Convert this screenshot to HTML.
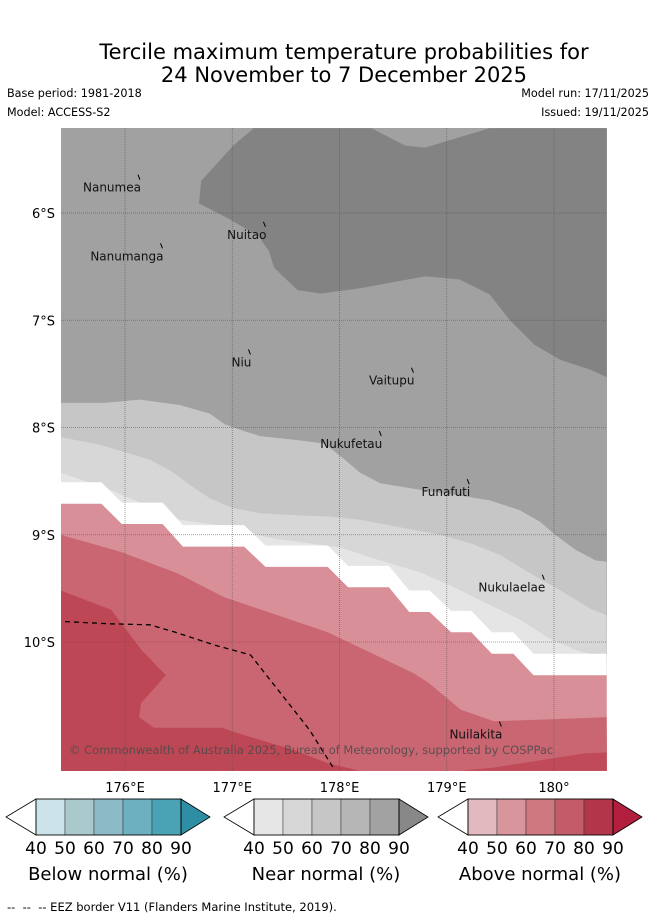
<!DOCTYPE html>
<html><head><meta charset="utf-8">
<style>
html,body{margin:0;padding:0;background:#fff;}
body{width:655px;height:919px;position:relative;overflow:hidden;font-family:"DejaVu Sans","Liberation Sans",sans-serif;color:#000;}
.t{position:absolute;white-space:nowrap;}
</style></head>
<body>
<div class="t" style="left:0;width:688px;top:41px;text-align:center;font-size:21px;line-height:23px;">Tercile maximum temperature probabilities for<br>24 November to 7 December 2025</div>
<div class="t" style="left:7px;top:87px;font-size:11.2px;">Base period: 1981-2018</div>
<div class="t" style="left:7px;top:106px;font-size:11.2px;">Model: ACCESS-S2</div>
<div class="t" style="right:6px;top:87px;font-size:11.2px;">Model run: 17/11/2025</div>
<div class="t" style="right:6px;top:106px;font-size:11.2px;">Issued: 19/11/2025</div>
<svg id="map" width="655" height="919" style="position:absolute;left:0;top:0" xmlns="http://www.w3.org/2000/svg"></svg>
<div class="t" style="left:7px;top:900px;font-size:11.5px;">--&nbsp; --&nbsp; -- EEZ border V11 (Flanders Marine Institute, 2019).</div>
<script>
// ---- data (lon °E, lat °S) ----
const lonTicks = [176,177,178,179,180];
const lonTickLabels = ["176°E","177°E","178°E","179°E","180°"];
const latTicks = [6,7,8,9,10];
const latTickLabels = ["6°S","7°S","8°S","9°S","10°S"];
const darkLon = [177.20,177.01,176.71,176.69,176.96,177.24,177.34,177.39,177.61,177.83,178.20,178.80,179.12,179.40,179.59,179.82,180.06,180.34,180.49,180.49,179.40,179.03,178.80,178.61,178.30];
const darkLat = [5.21,5.37,5.70,5.91,6.05,6.21,6.35,6.51,6.72,6.75,6.70,6.59,6.62,6.76,7.00,7.23,7.37,7.46,7.53,5.21,5.21,5.32,5.39,5.37,5.21];
const b70Lon = [175.40,175.81,176.14,176.51,176.79,176.93,177.07,177.26,177.63,177.86,178.05,178.19,178.38,178.75,179.22,179.40,179.68,179.87,180.01,180.20,180.39,180.49];
const b70Lat = [7.77,7.77,7.74,7.79,7.87,7.97,8.02,8.08,8.12,8.15,8.30,8.42,8.52,8.58,8.65,8.68,8.77,8.88,9.00,9.14,9.24,9.25];
const b60Lon = [175.40,175.77,176.00,176.23,176.42,176.61,176.79,177.00,177.26,177.63,177.91,178.19,178.56,178.94,179.22,179.50,179.78,180.06,180.34,180.49];
const b60Lat = [8.09,8.16,8.23,8.30,8.40,8.54,8.66,8.75,8.80,8.82,8.83,8.86,8.93,9.00,9.08,9.19,9.36,9.52,9.69,9.75];
const b50Lon = [175.40,175.86,176.51,177.00,177.35,178.01,178.38,178.75,179.03,179.31,179.68,179.96,180.24,180.49];
const b50Lat = [8.42,8.58,8.86,8.93,9.03,9.12,9.24,9.35,9.47,9.61,9.79,9.97,10.09,10.14];
const stairLon = [175.40,175.78,175.97,176.35,176.54,177.11,177.31,177.89,178.08,178.46,178.65,178.84,179.04,179.23,179.42,179.62,179.81,180.49];
const stairLat = [8.51,8.51,8.70,8.70,8.91,8.91,9.10,9.10,9.29,9.29,9.52,9.52,9.71,9.71,9.91,9.91,10.11,10.11];
const whiteBandDepth = 0.20;
const r60Lon = [175.40,175.96,176.49,176.92,177.89,178.69,178.83,179.13,179.44,180.28,180.49];
const r60Lat = [9.00,9.16,9.36,9.58,9.91,10.29,10.38,10.63,10.74,10.71,10.70];
const r70Lon = [175.40,175.87,176.15,176.38,176.15,176.13,176.27,176.90,177.02,177.58,177.89,178.19];
const r70Lat = [9.52,9.70,10.07,10.31,10.57,10.70,10.80,10.80,10.84,11.01,11.13,11.20];
const r80Lon = [179.13,179.44,180.28,180.49,180.49];
const r80Lat = [11.20,11.17,11.04,11.03,11.20];
const eezLon = [175.44,175.86,176.23,176.47,176.84,177.17,177.35,177.54,177.72,177.94];
const eezLat = [9.81,9.83,9.84,9.91,10.03,10.12,10.35,10.59,10.82,11.17];
const islandNames = ["Nanumea","Nuitao","Nanumanga","Niu","Vaitupu","Nukufetau","Funafuti","Nukulaelae","Nuilakita"];
const islandLon = [176.13,177.30,176.34,177.16,178.68,178.38,179.20,179.90,179.50];
const islandLat = [5.67,6.11,6.31,7.30,7.47,8.06,8.51,9.40,10.77];
// ---- axes ----
const L=61,R=607,T=128,B=771;
const LON0=175.403,LON1=180.494,LAT0=5.207,LAT1=11.203;
const X=lon=>L+(lon-LON0)/(LON1-LON0)*(R-L);
const Y=lat=>T+(lat-LAT0)/(LAT1-LAT0)*(B-T);
const svg=document.getElementById('map');
const NS='http://www.w3.org/2000/svg';
function mk(tag,attrs){const e=document.createElementNS(NS,tag);for(const k in attrs)e.setAttribute(k,attrs[k]);return e;}
const clip=mk('clipPath',{id:'mc'});clip.appendChild(mk('rect',{x:L,y:T,width:R-L,height:B-T}));svg.appendChild(clip);
const g=mk('g',{'clip-path':'url(#mc)'});svg.appendChild(g);
function pts(lons,lats){return lons.map((v,i)=>X(v).toFixed(1)+','+Y(lats[i]).toFixed(1));}
function region(lons,lats,fill,name,closeBottom){
  let p=pts(lons,lats);
  if(closeBottom){p.push(X(LON1)+','+B);p.push(X(LON0)+','+B);}
  const e=mk('polygon',{points:p.join(' '),fill:fill});
  
  
  g.appendChild(e);
}
const bg=mk('rect',{x:L,y:T,width:R-L,height:B-T,fill:'#a1a1a1'});


g.appendChild(bg);
region(darkLon,darkLat,'#838383','near-normal-90-band',false);
region(b70Lon,b70Lat,'#c6c6c6','near-normal-70-band',true);
region(b60Lon,b60Lat,'#d7d7d7','near-normal-60-band',true);
region(b50Lon,b50Lat,'#e5e5e5','near-normal-50-band',true);
region(stairLon,stairLat,'#ffffff','no-dominant-band',true);
region(stairLon,stairLat.map(v=>v+whiteBandDepth),'#d88f97','above-normal-50-band',true);
region(r60Lon,r60Lat,'#c96672','above-normal-60-band',true);
{let p=pts(r70Lon,r70Lat);p.push(X(LON0)+','+B);
 const e=mk('polygon',{points:p.join(' '),fill:'#be4755'});
 
 
 g.appendChild(e);}
region(r80Lon,r80Lat,'#c04a58','above-normal-70-band-east',false);
// gridlines
lonTicks.forEach((v,i)=>{
  const l=mk('line',{x1:X(v),x2:X(v),y1:T,y2:B,stroke:'#555','stroke-width':0.8,'stroke-dasharray':'1,1','stroke-opacity':0.7});
  
  
  g.appendChild(l);
  const t=mk('text',{x:X(v),y:792,'text-anchor':'middle','font-size':13,'font-family':'DejaVu Sans, Liberation Sans, sans-serif'});
  t.textContent=lonTickLabels[i];
  
  
  svg.appendChild(t);
});
latTicks.forEach((v,i)=>{
  const l=mk('line',{x1:L,x2:R,y1:Y(v),y2:Y(v),stroke:'#555','stroke-width':0.8,'stroke-dasharray':'1,1','stroke-opacity':0.7});
  
  
  g.appendChild(l);
  const t=mk('text',{x:55,y:Y(v)+5,'text-anchor':'end','font-size':13,'font-family':'DejaVu Sans, Liberation Sans, sans-serif'});
  t.textContent=latTickLabels[i];
  
  
  svg.appendChild(t);
});
// EEZ
{const e=mk('polyline',{points:pts(eezLon,eezLat).join(' '),fill:'none',stroke:'#000','stroke-width':1.3,'stroke-dasharray':'5,4'});
 
 
 g.appendChild(e);}
// islands
islandNames.forEach((n,i)=>{
  const x=X(islandLon[i]),y=Y(islandLat[i]);
  const m=mk('line',{x1:x-1,y1:y-3,x2:x+1,y2:y+2,stroke:'#000','stroke-width':1});
  
  
  g.appendChild(m);
  const t=mk('text',{x:x+2,y:y+14,'text-anchor':'end','font-size':12,'font-family':'DejaVu Sans, Liberation Sans, sans-serif',fill:'#111'});
  t.textContent=n;
  
  
  g.appendChild(t);
});
{const t=mk('text',{x:69,y:754,'font-size':11.5,'font-family':'DejaVu Sans, Liberation Sans, sans-serif',fill:'#4a4a4a','fill-opacity':0.85});
 t.textContent='© Commonwealth of Australia 2025, Bureau of Meteorology, supported by COSPPac';
 
 
 g.appendChild(t);}
// colourbars
const cbLeft=[36,254,468];
const cbTitles=['Below normal (%)','Near normal (%)','Above normal (%)'];
const cbNames=['below-normal-colorbar','near-normal-colorbar','above-normal-colorbar'];
const cbColors=[['#cce3e9','#a9c9cd','#8cbac6','#6db0bf','#4aa3b4','#2f8ea3'],
 ['#e6e6e6','#d7d7d7','#c6c6c6','#b6b6b6','#a2a2a2','#888888'],
 ['#e2b9bf','#d8959c','#cf7880','#c45b68','#b3354a','#b11e3e']];
const cbTicks=['40','50','60','70','80','90'];
cbLeft.forEach((x0,k)=>{
  const cg=mk('g',{});
  
  
  svg.appendChild(cg);
  const w=29,y0=799,h=36;
  cg.appendChild(mk('polygon',{points:`${x0},${y0} ${x0-30},${y0+h/2} ${x0},${y0+h}`,fill:'#fff',stroke:'#000','stroke-width':0.8}));
  for(let i=0;i<5;i++)cg.appendChild(mk('rect',{x:x0+i*w,y:y0,width:w,height:h,fill:cbColors[k][i],stroke:'#333','stroke-width':0.5}));
  cg.appendChild(mk('polygon',{points:`${x0+5*w},${y0} ${x0+5*w+29},${y0+h/2} ${x0+5*w},${y0+h}`,fill:cbColors[k][5],stroke:'#000','stroke-width':0.8}));
  cg.appendChild(mk('rect',{x:x0,y:y0,width:5*w,height:h,fill:'none',stroke:'#000','stroke-width':0.8}));
  cbTicks.forEach((tk,i)=>{
    const t=mk('text',{x:x0+i*w,y:854,'text-anchor':'middle','font-size':17,'font-family':'DejaVu Sans, Liberation Sans, sans-serif'});
    t.textContent=tk;
    
    
    cg.appendChild(t);
  });
  const tt=mk('text',{x:x0+72,y:880,'text-anchor':'middle','font-size':18,'font-family':'DejaVu Sans, Liberation Sans, sans-serif'});
  tt.textContent=cbTitles[k];
  
  
  cg.appendChild(tt);
});
</script>
</body></html>
